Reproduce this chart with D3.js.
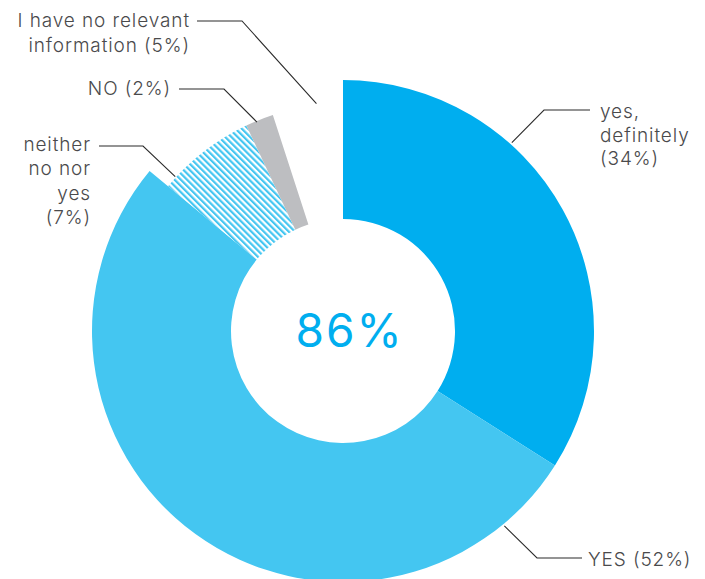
<!DOCTYPE html>
<html>
<head>
<meta charset="utf-8">
<script src="https://cdn.jsdelivr.net/npm/d3@7"></script>
<style>
  html, body { margin: 0; padding: 0; background: #ffffff; }
  svg { display: block; }
  text { font-family: Inter, "Noto Sans", sans-serif; }
</style>
</head>
<body>
<svg id="chart" width="705" height="579"></svg>
<script>
// Survey answers, in drawing order clockwise from 12 o'clock
const categories = ["yes, definitely", "YES", "neither no nor yes", "NO", "I have no relevant information"];
const values = [34, 52, 7, 2, 5];
const labelLines = [
  ["yes,", "definitely", "(34%)"],
  ["YES (52%)"],
  ["neither", "no nor", "yes", "(7%)"],
  ["NO (2%)"],
  ["I have no relevant", "information (5%)"]
];
const centerLabel = "86%";

const W = 705, H = 579;
const cx = 343, cy = 331;
const innerR = 112;

// Per-slice styling and leader placement
const styles = [
  { fill: "#00aeef", outer: 251 },
  { fill: "#44c6f1", outer: 251 },
  { fill: "url(#hatch)", outer: 227 },
  { fill: "#bdbec1", outer: 227 },
  { fill: "none", outer: 0 }
];
const leaders = [
  { t: 0.342, r: 253, elbow: [544, 110], end: 590, anchor: "start", tx: 600, ty: 118, lh: 23.5 },
  { t: 0.096, r: 253, elbow: [537, 558], end: 582, anchor: "start", tx: 588, ty: 566, lh: 24 },
  { t: 0.12,  r: 228, elbow: [143, 146], end: 99,  anchor: "end",   tx: 91,  ty: 151, lh: 24.3 },
  { t: 0.39,  r: 226, elbow: [224, 89],  end: 179, anchor: "end",   tx: 171, ty: 95,  lh: 24 },
  { t: 0.63,  r: 229, elbow: [242, 21],  end: 197, anchor: "end",   tx: 190, ty: 27,  lh: 25 }
];

const svg = d3.select("#chart");

// Diagonal stripe pattern for the neutral answer
const defs = svg.append("defs");
const pat = defs.append("pattern")
  .attr("id", "hatch")
  .attr("patternUnits", "userSpaceOnUse")
  .attr("width", 4.4).attr("height", 4.4)
  .attr("patternTransform", "rotate(-45)");
pat.append("rect").attr("width", 4.4).attr("height", 4.4).attr("fill", "#ffffff");
pat.append("rect").attr("width", 2.2).attr("height", 4.4).attr("fill", "#44c6f1");

const pie = d3.pie().sort(null).value(d => d)(values);

const g = svg.append("g").attr("transform", `translate(${cx},${cy})`);

g.selectAll("path.slice")
  .data(pie.filter((d, i) => styles[i].outer > 0))
  .join("path")
  .attr("class", "slice")
  .attr("fill", d => styles[d.index].fill)
  .attr("d", d => d3.arc().innerRadius(innerR).outerRadius(styles[d.index].outer)(d));

// Leader lines and labels
pie.forEach((d, i) => {
  const L = leaders[i];
  const a = d.startAngle + (d.endAngle - d.startAngle) * L.t;
  const ax = cx + L.r * Math.sin(a);
  const ay = cy - L.r * Math.cos(a);
  svg.append("polyline")
    .attr("points", [[ax, ay], L.elbow, [L.end, L.elbow[1]]].map(p => p.join(",")).join(" "))
    .attr("fill", "none")
    .attr("stroke", "#2b2b2b")
    .attr("stroke-width", 1.1);

  const txt = svg.append("text")
    .attr("x", L.tx).attr("y", L.ty)
    .attr("text-anchor", L.anchor)
    .attr("fill", "#4a4a4c")
    .attr("font-size", 19)
    .attr("font-weight", 300)
    .attr("letter-spacing", 0.9);
  labelLines[i].forEach((line, k) => {
    txt.append("tspan").attr("x", L.tx).attr("y", L.ty + k * L.lh).text(line);
  });
});

// Combined share of positive answers in the middle
svg.append("text")
  .attr("x", 349.5).attr("y", 347)
  .attr("text-anchor", "middle")
  .attr("fill", "#00aeef")
  .attr("font-size", 46)
  .attr("font-weight", 400)
  .attr("letter-spacing", 2)
  .text(centerLabel);
</script>
</body>
</html>
